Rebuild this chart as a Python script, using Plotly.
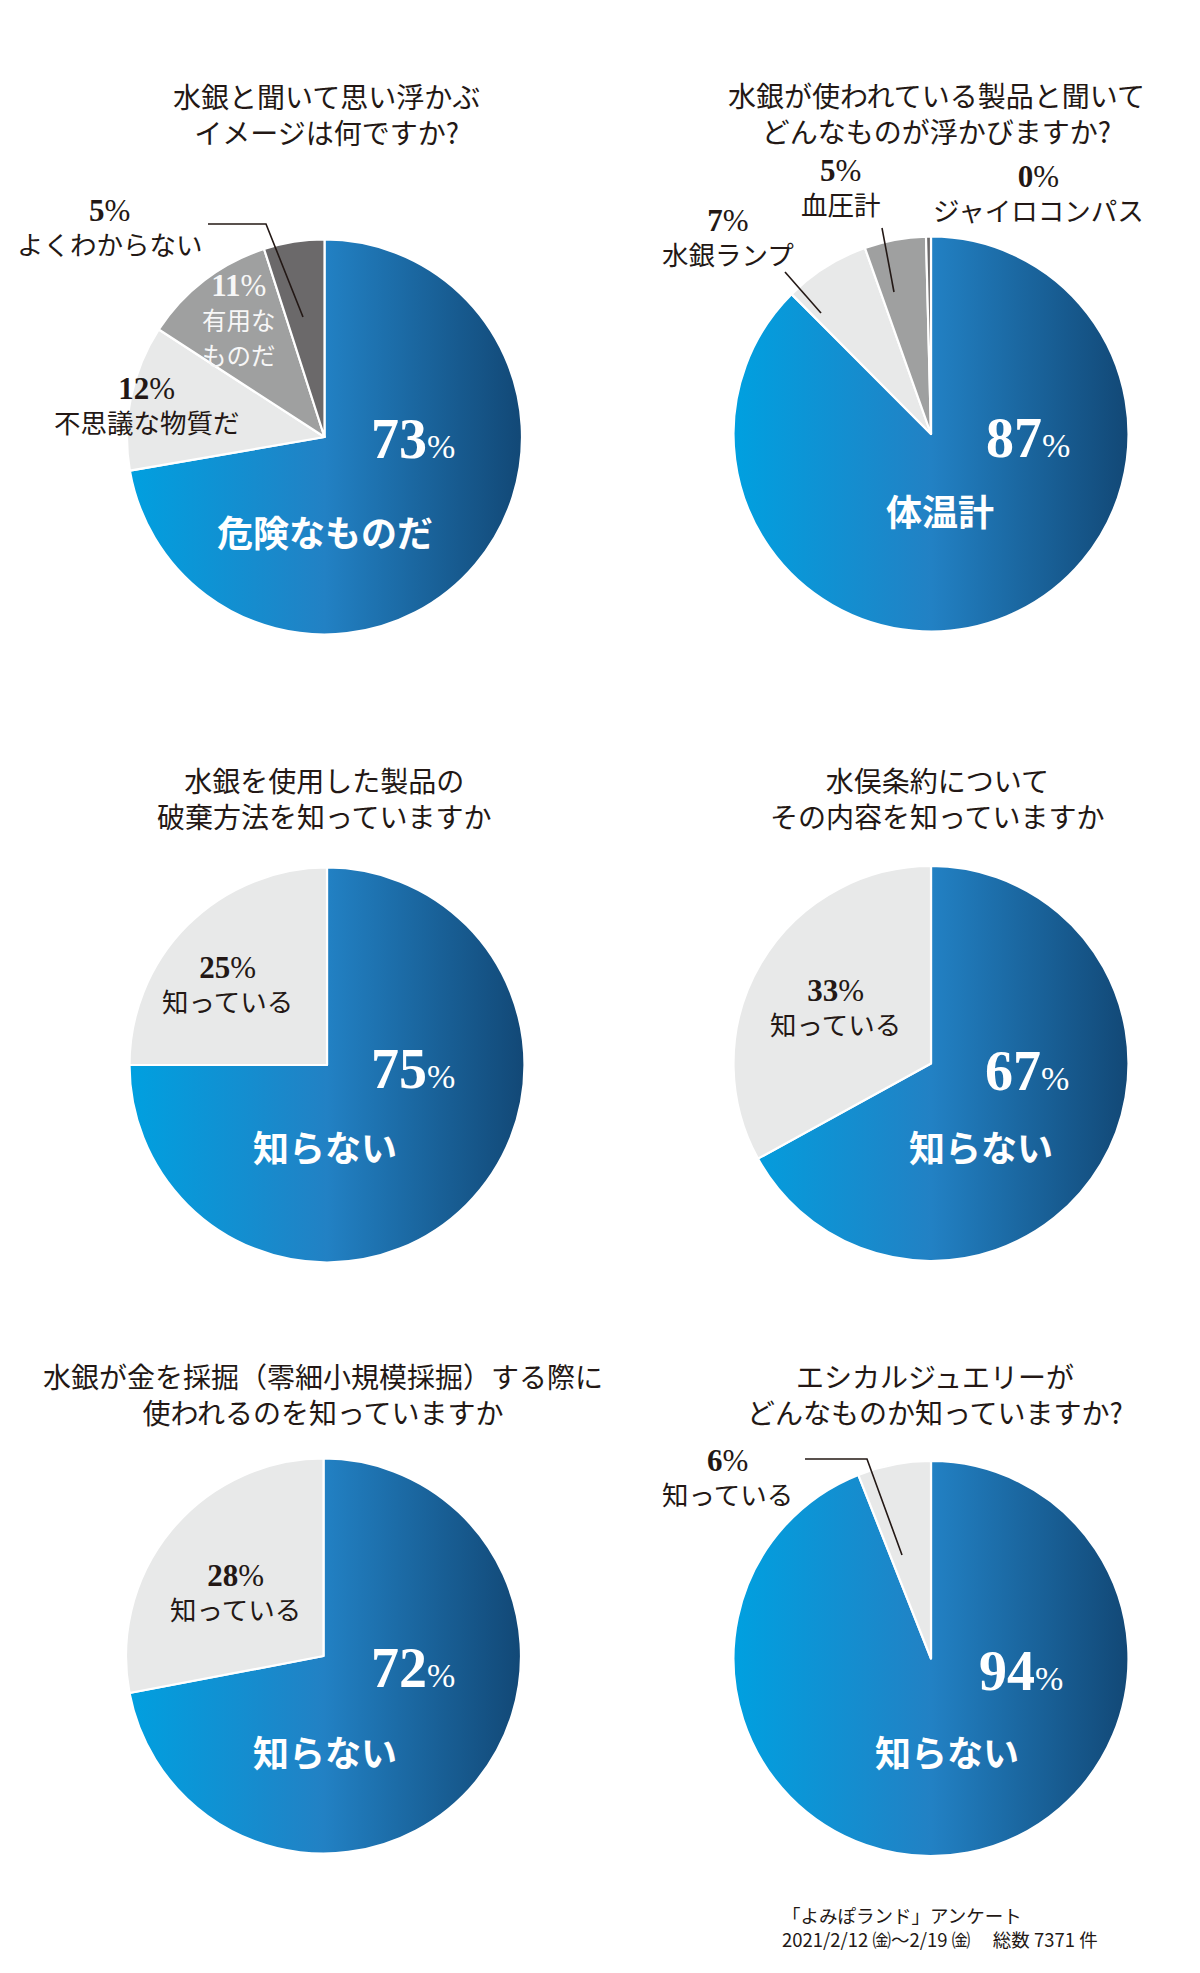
import base64
import plotly.graph_objects as go

W, H = 1200, 1973
OFF = 8  # page body margin offset

# ---------------- data ----------------
q1_title = ["水銀と聞いて思い浮かぶ", "イメージは何ですか?"]
q1_labels = ["危険なものだ", "不思議な物質だ", "有用なものだ", "よくわからない"]
q1_values = [73, 12, 11, 5]

q2_title = ["水銀が使われている製品と聞いて", "どんなものが浮かびますか?"]
q2_labels = ["体温計", "水銀ランプ", "血圧計", "ジャイロコンパス"]
q2_values = [87, 7, 5, 0.4]
q2_shown = [87, 7, 5, 0]

q3_title = ["水銀を使用した製品の", "破棄方法を知っていますか"]
q3_labels = ["知らない", "知っている"]
q3_values = [75, 25]

q4_title = ["水俣条約について", "その内容を知っていますか"]
q4_labels = ["知らない", "知っている"]
q4_values = [67, 33]

q5_title = ["水銀が金を採掘（零細小規模採掘）する際に", "使われるのを知っていますか"]
q5_labels = ["知らない", "知っている"]
q5_values = [72, 28]

q6_title = ["エシカルジュエリーが", "どんなものか知っていますか?"]
q6_labels = ["知らない", "知っている"]
q6_values = [94, 6]

footer_lines = ["「よみぽランド」アンケート", "2021/2/12 ㈮〜2/19 ㈮　 総数 7371 件"]

# ---------------- styles ----------------
CLEAR = "rgba(0,0,0,0)"   # blue slice: gradient image shows through
LIGHT = "#e8e9e9"
MID = "#9fa0a0"
DARK = "#6b696a"
INK = "#231815"
JP = "Noto Sans CJK JP"
SERIF = "Liberation Serif"

grad_svg = (
    '<svg xmlns="http://www.w3.org/2000/svg" width="400" height="400" viewBox="0 0 400 400">'
    '<defs><linearGradient id="g" x1="0" y1="0" x2="1" y2="0">'
    '<stop offset="0" stop-color="#00a0e0"/>'
    '<stop offset="0.5" stop-color="#2281c4"/>'
    '<stop offset="1" stop-color="#124876"/>'
    '</linearGradient></defs>'
    '<circle cx="200" cy="200" r="200" fill="url(#g)"/></svg>'
)
GRAD_SRC = "data:image/svg+xml;base64," + base64.b64encode(grad_svg.encode()).decode()


def px(x):
    return (x - OFF) / W


def py(y):
    return 1 - (y - OFF) / H


charts = [
    dict(title=q1_title, labels=q1_labels, values=q1_values, shown=q1_values,
         colors=[CLEAR, LIGHT, MID, DARK], cx=324.5, cy=437, r=197.5, tpos=(326, 114),
         big=(413, 439), main=(324.5, 531),
         small=[None, (147, 406, INK), (239, 320, "#f7f7f7"), (110, 228, INK)],
         leaders=[[(208, 224), (266, 224), (303, 317)]]),
    dict(title=q2_title, labels=q2_labels, values=q2_values, shown=q2_shown,
         colors=[CLEAR, LIGHT, MID, DARK], cx=931, cy=434, r=197.5, tpos=(936, 113),
         big=(1028, 438), main=(940, 509.5),
         small=[None, (728, 238, INK), (841, 188, INK), (1038, 194, INK)],
         leaders=[[(882, 228), (894, 292)], [(785, 272), (821, 313)]]),
    dict(title=q3_title, labels=q3_labels, values=q3_values, shown=q3_values,
         colors=[CLEAR, LIGHT], cx=327, cy=1065, r=197.5, tpos=(324.5, 797.5),
         big=(413, 1069), main=(324.5, 1146),
         small=[None, (228, 984.5, INK)], leaders=[]),
    dict(title=q4_title, labels=q4_labels, values=q4_values, shown=q4_values,
         colors=[CLEAR, LIGHT], cx=931, cy=1063.5, r=197.5, tpos=(937, 797.5),
         big=(1026.5, 1070.5), main=(981, 1146),
         small=[None, (835, 1008, INK)], leaders=[]),
    dict(title=q5_title, labels=q5_labels, values=q5_values, shown=q5_values,
         colors=[CLEAR, LIGHT], cx=323.5, cy=1656, r=197.5, tpos=(323, 1394),
         big=(413, 1668), main=(324.5, 1751),
         small=[None, (235, 1593, INK)], leaders=[]),
    dict(title=q6_title, labels=q6_labels, values=q6_values, shown=q6_values,
         colors=[CLEAR, LIGHT], cx=931, cy=1658.5, r=197.5, tpos=(935, 1394),
         big=(1021, 1670.5), main=(947, 1751),
         small=[None, (727, 1478, INK)],
         leaders=[[(805, 1459), (867, 1459), (902, 1555)]]),
]

fig = go.Figure()
annotations = []
shapes = []
images = []


def ann(x, y, text, size, color, family=JP, xanchor="center"):
    annotations.append(dict(x=px(x), y=py(y), xref="paper", yref="paper", showarrow=False,
                            text=text, xanchor=xanchor, yanchor="middle", align=xanchor,
                            font=dict(family=family, size=size, color=color)))


def pct_html(v, size):
    return (f"<span style='font-family:{SERIF};font-size:{size}px'>"
            f"<b>{v}</b>%</span>")


for c in charts:
    cx, cy, r = c["cx"], c["cy"], c["r"]
    fig.add_trace(go.Pie(
        values=c["values"], labels=c["labels"], sort=False, direction="clockwise",
        rotation=0, textinfo="none", hoverinfo="label+percent", showlegend=False,
        marker=dict(colors=c["colors"], line=dict(color="white", width=2.2)),
        domain=dict(x=[px(cx - r), px(cx + r)], y=[py(cy + r), py(cy - r)]),
    ))
    images.append(dict(source=GRAD_SRC, xref="paper", yref="paper",
                       x=px(cx - r), y=py(cy - r), sizex=2 * r / W, sizey=2 * r / H,
                       xanchor="left", yanchor="top", sizing="stretch", layer="below"))
    # title (two lines)
    tx, ty = c["tpos"]
    ann(tx, ty, "<br>".join(c["title"]), 28, INK)
    # big percentage + main label
    bx, by = c["big"]
    ann(bx, by, f"<b>{c['shown'][0]}</b><span style='font-size:34px'>%</span>", 56, "white", SERIF)
    mx, my = c["main"]
    ann(mx, my, f"<b>{c['labels'][0]}</b>", 36, "white")
    # small labels: percentage above category name
    for i, s in enumerate(c["small"]):
        if s is None:
            continue
        sx, sy, col = s
        lab = c["labels"][i]
        if lab == "有用なものだ":
            lab = ("<span style='font-size:24.5px'>" + lab[:3] + "</span><br>"
                   "<span style='font-size:24.5px'>" + lab[3:] + "</span>")
        text = pct_html(c["shown"][i], 31) + "<br>" + lab
        ann(sx, sy, text, 26.5, col)
    for pts in c["leaders"]:
        path = "M " + " L ".join(f"{px(x):.5f},{py(y):.5f}" for x, y in pts)
        shapes.append(dict(type="path", path=path, xref="paper", yref="paper",
                           line=dict(color=INK, width=1.6), layer="above"))

# footer
ann(780, 1926.5, "<br>".join(footer_lines), 18.5, INK, xanchor="left")

fig.update_layout(
    width=W, height=H, margin=dict(l=0, r=0, t=0, b=0),
    paper_bgcolor="white", plot_bgcolor="white",
    annotations=annotations, shapes=shapes, images=images,
)

fig.write_html("out.html")
